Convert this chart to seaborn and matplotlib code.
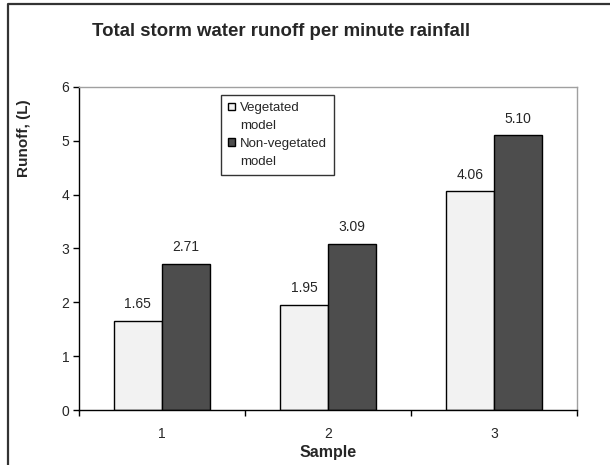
import matplotlib
matplotlib.use("Agg")
import matplotlib.pyplot as plt
import seaborn as sns
import pandas as pd
from matplotlib.patches import Patch
from matplotlib.lines import Line2D

samples = ["1", "2", "3"]
vegetated = [1.65, 1.95, 4.06]
non_vegetated = [2.71, 3.09, 5.10]
series_names = ["Vegetated model", "Non-vegetated model"]
y_ticks = [0, 1, 2, 3, 4, 5, 6]

df = pd.DataFrame({
    "Sample": samples * 2,
    "Runoff": vegetated + non_vegetated,
    "Series": [series_names[0]] * 3 + [series_names[1]] * 3,
})

sns.set_theme(style="white")
plt.rcParams['font.family'] = ['Liberation Sans', 'DejaVu Sans']

colors = ["#F2F2F2", "#4D4D4D"]
fig = plt.figure(figsize=(6.1, 4.65), dpi=100)
ax = fig.add_axes([79/610, 1-410/465, (577-79)/610, (410-87)/465])

sns.barplot(data=df, x="Sample", y="Runoff", hue="Series", palette=colors,
            width=0.58, edgecolor="black", linewidth=1, ax=ax, legend=False,
            saturation=1)

for c in ax.containers:
    ax.bar_label(c, fmt="%.2f", padding=7, fontsize=10)

ax.set_xlim(-0.5, 2.5)
ax.set_ylim(0, 6)
ax.set_yticks(y_ticks)
ax.tick_params(axis='y', which='major', left=True, length=4, width=1, color='black',
               labelsize=10, pad=3)
ax.set_xticks(range(len(samples)))
ax.set_xticklabels(samples)
ax.tick_params(axis='x', which='major', bottom=False, length=0, labelsize=10, pad=12)
ax.set_xticks([-0.5, 0.5, 1.5, 2.5], minor=True)
ax.tick_params(axis='x', which='minor', bottom=True, length=4, width=1, color='black')

for s in ["left", "bottom"]:
    ax.spines[s].set_color("black")
    ax.spines[s].set_linewidth(1)
for s in ["top", "right"]:
    ax.spines[s].set_color("#A0A0A0")
    ax.spines[s].set_linewidth(1)

ax.set_xlabel("Sample", fontsize=11.5, fontweight="bold", labelpad=3)
ax.set_ylabel("Runoff, (L)", fontsize=11, fontweight="bold")
ax.yaxis.set_label_coords(-0.096, 0.84)

# legend: each series name split over two lines, handle on the first line
blank = Patch(facecolor="none", edgecolor="none")
handles, labels = [], []
for i, name in enumerate(series_names):
    first, second = name.rsplit(" ", 1)
    handles += [Patch(facecolor=colors[i], edgecolor="black", linewidth=1), blank]
    labels += [first, second]
leg = ax.legend(handles, labels, loc="upper left", bbox_to_anchor=(0.285, 0.976),
                fontsize=9.5, frameon=True, fancybox=False, edgecolor="black",
                handlelength=0.5, handleheight=0.5, handletextpad=0.4,
                borderpad=0.55, labelspacing=0.45, borderaxespad=0)
leg.get_frame().set_linewidth(1)

fig.text(92/610, 1-31/465, "Total storm water runoff per minute rainfall",
         fontsize=13.4, fontweight="bold", ha="left", va="center")

fig.add_artist(Line2D([8/610, 8/610, 1.0], [0.0, 1-4/465, 1-4/465],
                      transform=fig.transFigure, color="#333333", linewidth=1.6))

fig.savefig("out.png", dpi=100)
